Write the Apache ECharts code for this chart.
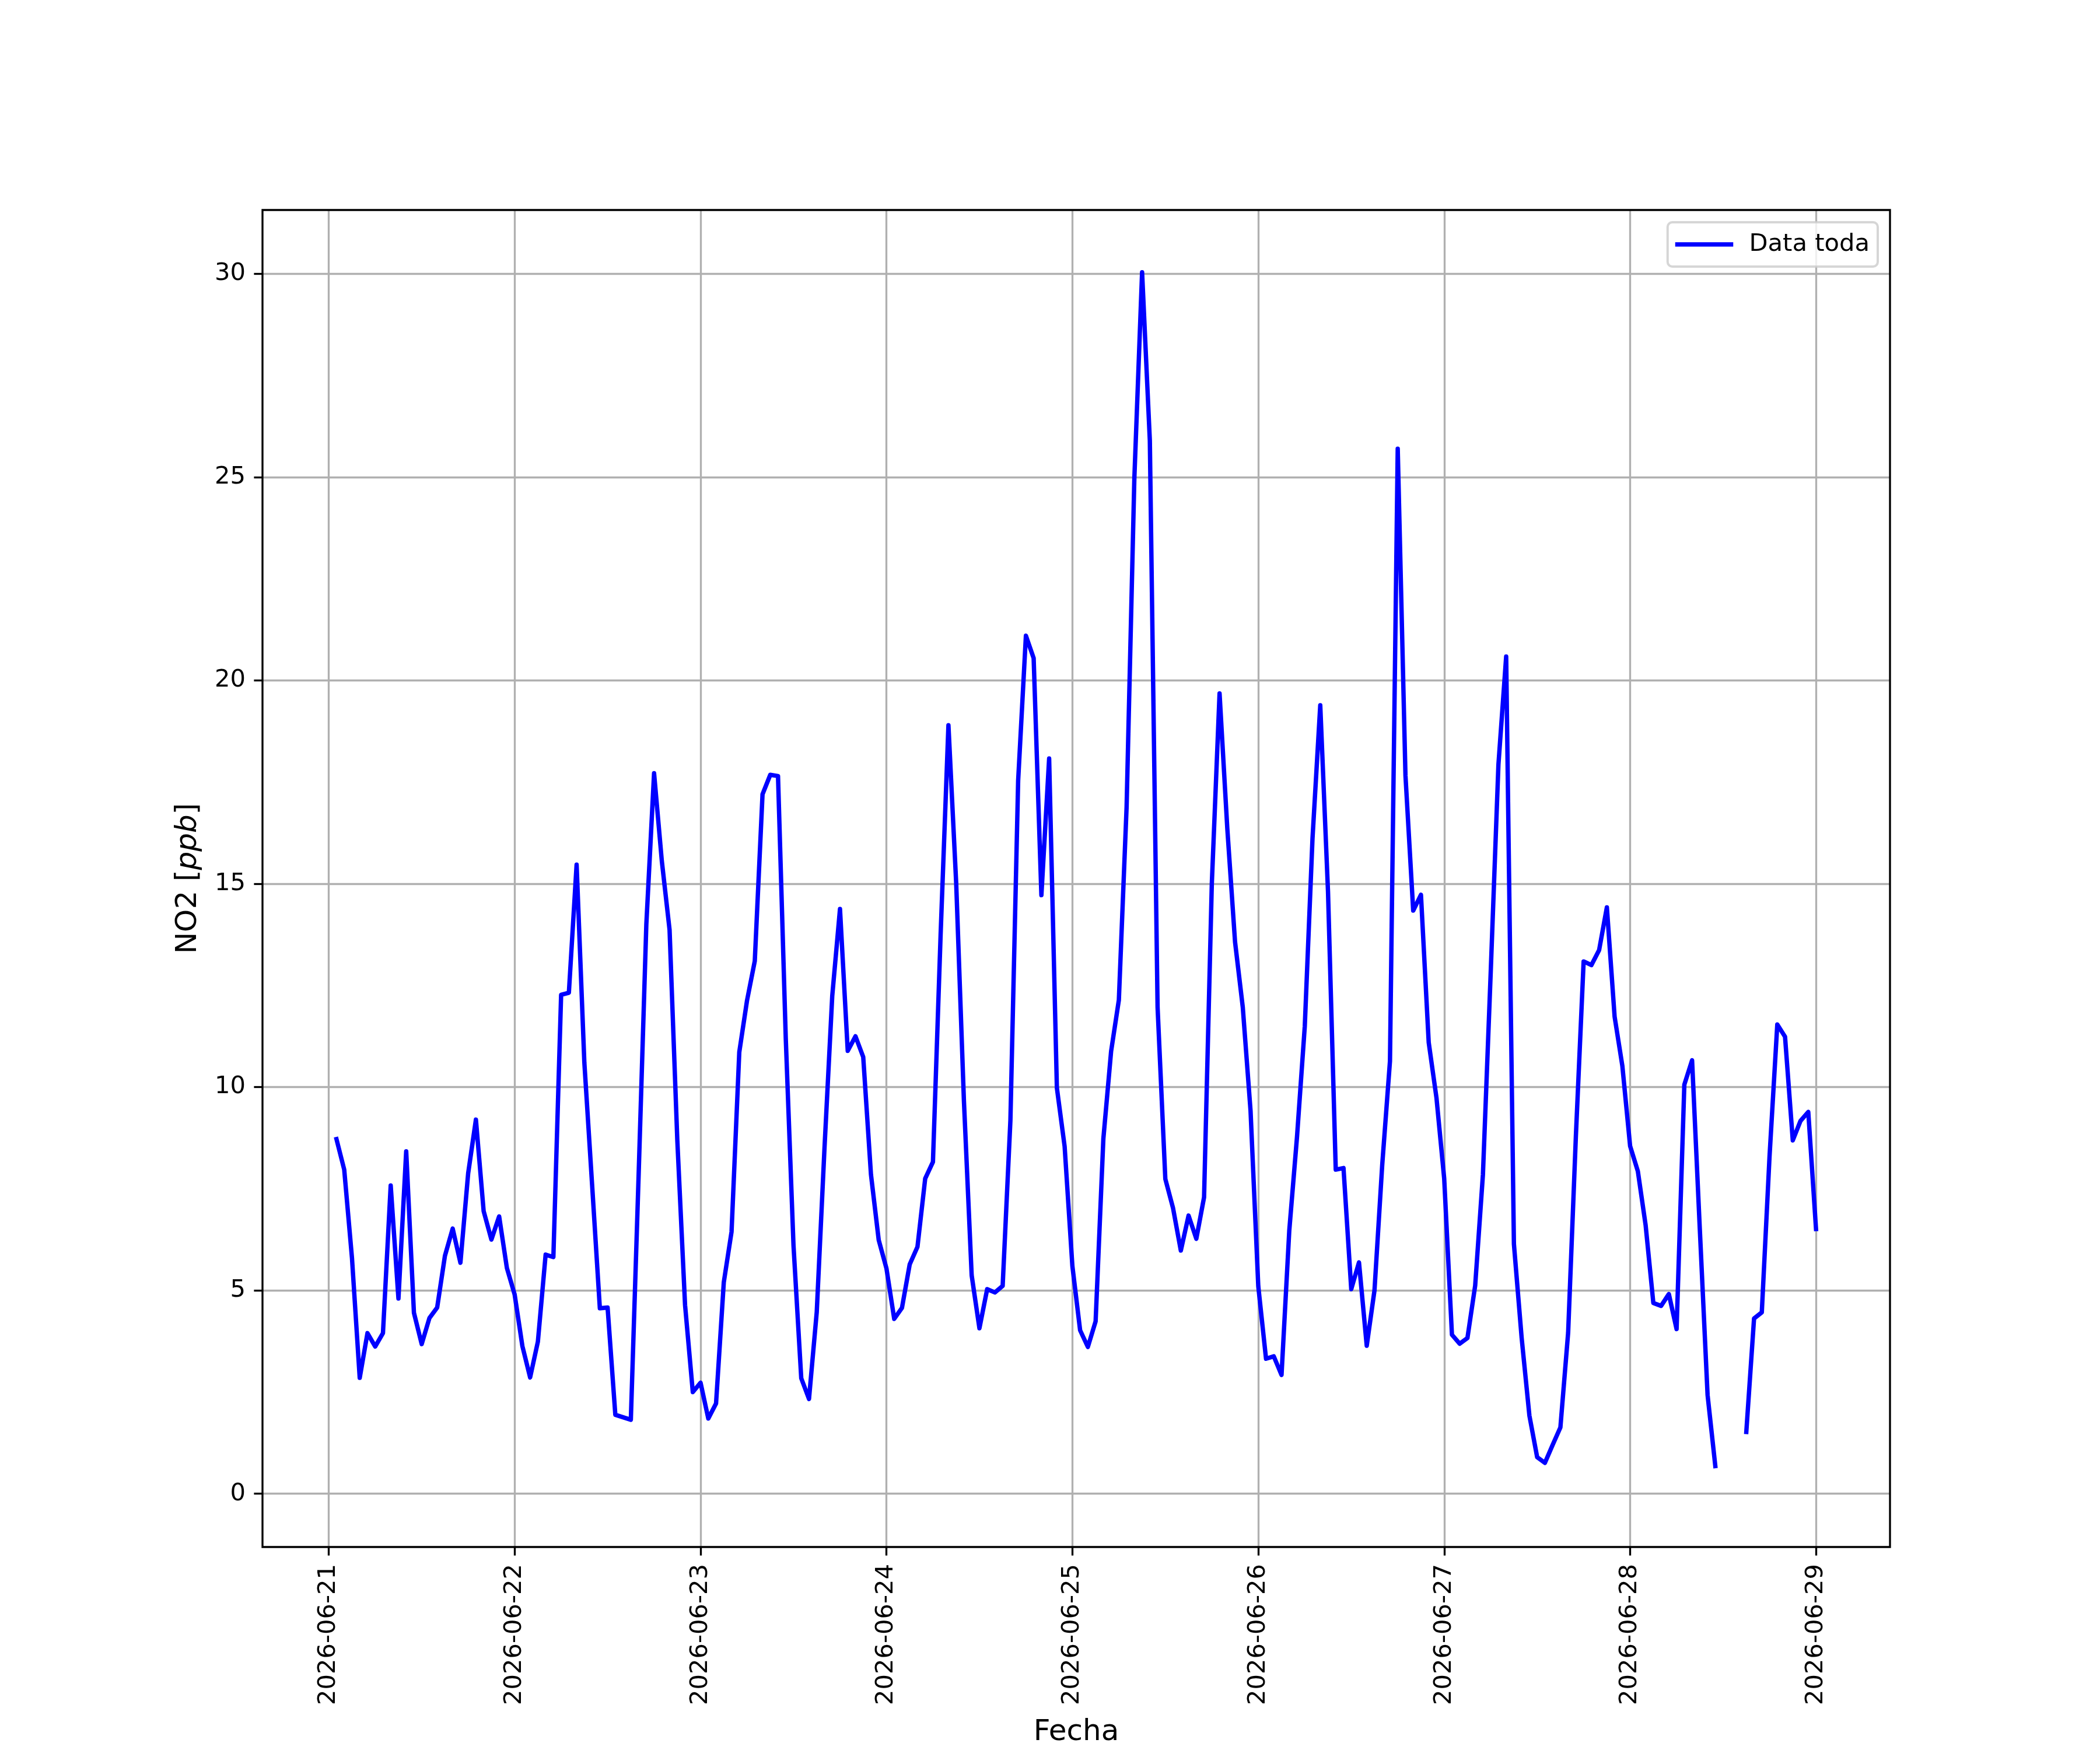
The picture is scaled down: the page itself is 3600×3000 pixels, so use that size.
<!DOCTYPE html>
<html>
<head>
<meta charset="utf-8">
<script src="https://cdn.jsdelivr.net/npm/echarts@6/dist/echarts.min.js"></script>
<style>
html,body{margin:0;padding:0;background:#ffffff;}
#chart{width:3600px;height:3000px;}
</style>
</head>
<body>
<div id="chart"></div>
<script>
// Tick labels (one per day, at hour 0, 24, 48, ...)
const dayLabels = ['2026-06-21','2026-06-22','2026-06-23','2026-06-24','2026-06-25','2026-06-26','2026-06-27','2026-06-28','2026-06-29'];
const dayTicks = [0, 24, 48, 72, 96, 120, 144, 168, 192];   // hours since 2026-06-21 00:00
const yTicks = [0, 5, 10, 15, 20, 25, 30];
const firstHour = 1;   // first sample: 2026-06-21 01:00, hourly samples

// NO2 [ppb], hourly values, by day
const no2Day1 = [8.72, 7.97, 5.8, 2.85, 3.95, 3.62, 3.95, 7.58, 4.8, 8.42, 4.45, 3.68, 4.32, 4.58, 5.85, 6.52, 5.68, 7.88, 9.2, 6.95, 6.25, 6.82, 5.55];
const no2Day2 = [4.9, 3.63, 2.86, 3.74, 5.88, 5.82, 12.27, 12.32, 15.47, 10.6, 7.6, 4.56, 4.58, 1.94, 1.88, 1.82, 7.8, 14.0, 17.72, 15.56, 13.87, 8.69, 4.64, 2.5];
const no2Day3 = [2.73, 1.85, 2.22, 5.2, 6.44, 10.86, 12.13, 13.1, 17.2, 17.68, 17.65, 11.2, 6.1, 2.84, 2.33, 4.47, 8.5, 12.24, 14.38, 10.89, 11.25, 10.74, 7.85, 6.24];
const no2Day4 = [5.54, 4.3, 4.57, 5.64, 6.07, 7.75, 8.16, 13.8, 18.9, 15.02, 9.66, 5.37, 4.07, 5.03, 4.95, 5.11, 9.18, 17.54, 21.1, 20.55, 14.72, 18.08, 9.98, 8.54];
const no2Day5 = [5.6, 4.02, 3.61, 4.24, 8.73, 10.88, 12.14, 16.89, 24.97, 30.04, 25.9, 11.96, 7.74, 7.02, 5.98, 6.84, 6.27, 7.29, 15.0, 19.68, 16.36, 13.57, 11.96, 9.42];
const no2Day6 = [5.1, 3.32, 3.38, 2.92, 6.47, 8.78, 11.49, 16.12, 19.39, 14.81, 7.97, 8.01, 5.03, 5.69, 3.64, 5.0, 8.09, 10.64, 25.7, 17.66, 14.34, 14.73, 11.1, 9.74];
const no2Day7 = [7.75, 3.91, 3.69, 3.83, 5.12, 7.85, 12.8, 17.93, 20.59, 6.14, 3.83, 1.92, 0.9, 0.76, 1.2, 1.63, 3.96, 8.8, 13.09, 13.0, 13.37, 14.42, 11.73, 10.52];
const no2Day8 = [8.55, 7.93, 6.61, 4.69, 4.62, 4.91, 4.05, 10.06, 10.66, 6.5, 2.43, 0.68, null, null, null, 1.52, 4.31, 4.46, 8.3, 11.54, 11.24, 8.69, 9.17, 9.39, 6.51];

const no2 = [].concat(no2Day1, no2Day2, no2Day3, no2Day4, no2Day5, no2Day6, no2Day7, no2Day8);
const seriesData = no2.map((v, i) => [firstHour + i, v]);

const FS = 41.67;        // tick / legend text
const FS_LABEL = 50;     // axis titles
const LW_AX = 3.33;
const LW_DATA = 7.5;
const FONT = 'DejaVu Sans';

const chart = echarts.init(document.getElementById('chart'), null, {renderer: 'canvas', width: 3600, height: 3000});

chart.setOption({
  animation: false,
  backgroundColor: '#ffffff',
  textStyle: {fontFamily: FONT},
  grid: {
    left: 450, right: 360, top: 360, bottom: 330,
    show: true, borderColor: '#000000', borderWidth: LW_AX,
    backgroundColor: 'transparent', z: 10, containLabel: false
  },
  legend: {
    right: 381, top: 381,
    orient: 'horizontal',
    backgroundColor: 'rgba(255,255,255,0.8)',
    borderColor: 'rgba(204,204,204,0.8)',
    borderWidth: 4,
    borderRadius: 8,
    padding: [17, 14, 17, 13],
    itemWidth: 92,
    itemHeight: 42,
    itemStyle: {opacity: 0},
    lineStyle: {width: LW_DATA, color: '#0000ff', opacity: 1},
    textStyle: {fontSize: FS, color: '#000000', fontFamily: FONT, padding: [0, 0, 0, 26]},
    data: ['Data toda']
  },
  xAxis: {
    type: 'value',
    min: -8.55, max: 201.55,
    minInterval: 24, maxInterval: 24,
    axisLine: {show: false, onZero: false},
    axisTick: {show: true, inside: false, length: 14.6, lineStyle: {color: '#000000', width: LW_AX}, customValues: dayTicks},
    axisLabel: {
      show: true, rotate: 90, margin: 29, fontSize: FS, color: '#000000', fontFamily: FONT,
      customValues: dayTicks,
      formatter: function (v) {
        const k = dayTicks.indexOf(Math.round(v));
        return (k >= 0 && Math.abs(v - dayTicks[k]) < 1e-6) ? dayLabels[k] : '';
      }
    },
    splitLine: {show: true, lineStyle: {color: '#b0b0b0', width: LW_AX}},
    name: 'Fecha',
    nameLocation: 'middle',
    nameGap: 318,
    nameTextStyle: {fontSize: FS_LABEL, color: '#000000', fontFamily: FONT, verticalAlign: 'middle'}
  },
  yAxis: {
    type: 'value',
    min: -1.31, max: 31.57,
    minInterval: 5, maxInterval: 5,
    axisLine: {show: false, onZero: false},
    axisTick: {show: true, inside: false, length: 14.6, lineStyle: {color: '#000000', width: LW_AX}, customValues: yTicks},
    axisLabel: {
      show: true, margin: 29, fontSize: FS, color: '#000000', fontFamily: FONT,
      customValues: yTicks,
      formatter: function (v) {
        return yTicks.indexOf(Math.round(v)) >= 0 && Math.abs(v - Math.round(v)) < 1e-6 ? String(Math.round(v)) : '';
      }
    },
    splitLine: {show: true, lineStyle: {color: '#b0b0b0', width: LW_AX}},
    name: '{a|NO2 [}{b|ppb}{a|]}',
    nameLocation: 'middle',
    nameGap: 127,
    nameTextStyle: {
      fontSize: FS_LABEL, color: '#000000', fontFamily: FONT, verticalAlign: 'middle',
      rich: {
        a: {fontSize: FS_LABEL, color: '#000000', fontFamily: FONT},
        b: {fontSize: FS_LABEL, color: '#000000', fontFamily: FONT, fontStyle: 'italic'}
      }
    }
  },
  series: [{
    type: 'line',
    name: 'Data toda',
    data: seriesData,
    symbol: 'none',
    showSymbol: false,
    connectNulls: false,
    lineStyle: {color: '#0000ff', width: LW_DATA, cap: 'square', join: 'round'},
    itemStyle: {color: '#0000ff'},
    z: 2
  }]
});
</script>
</body>
</html>
